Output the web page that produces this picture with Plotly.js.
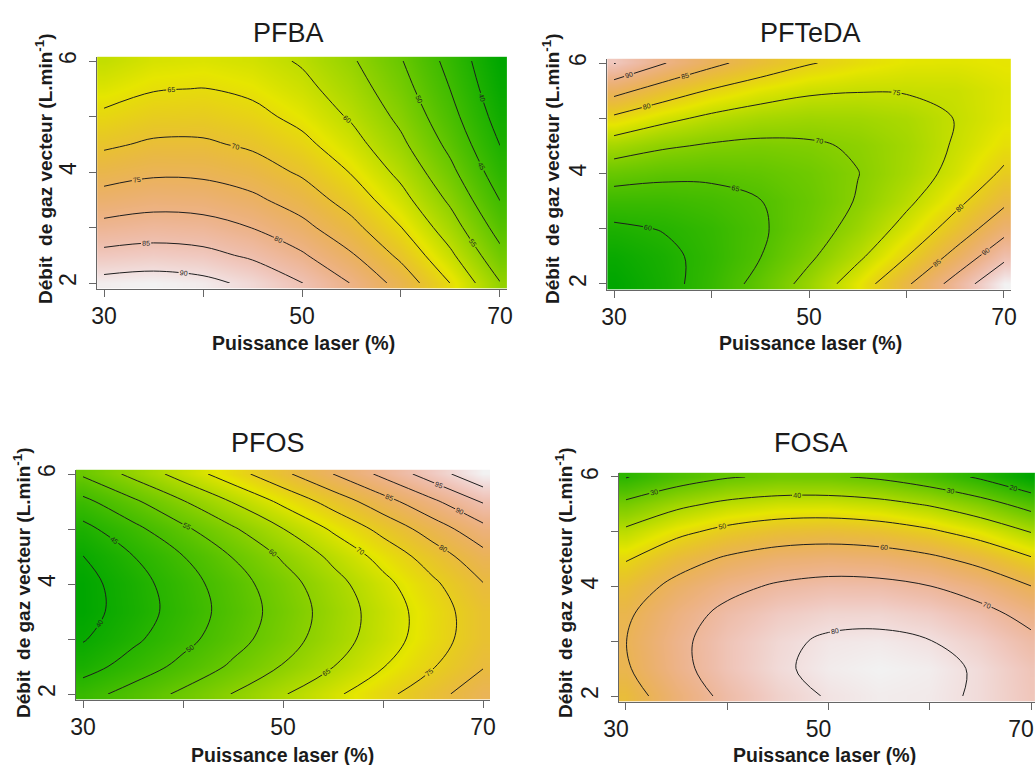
<!DOCTYPE html>
<html>
<head>
<meta charset="utf-8">
<script src="https://cdn.plot.ly/plotly-3.0.1.min.js"></script>
<style>
html,body{margin:0;padding:0;background:#ffffff;}
#chart{width:1035px;height:765px;}
</style>
</head>
<body>
<div id="chart"></div>
<script>
// ---- data ----
const puissance = [30, 35, 40, 45, 50, 55, 60, 65, 70];      // Puissance laser (%)
const debit = [2, 2.5, 3, 3.5, 4, 4.5, 5, 5.5, 6];           // Débit de gaz vecteur (L/min)
const xTickVals = [30, 50, 70];
const xTickText = ['30', '50', '70'];
const xMinorTicks = [40, 60];
const yTickVals = [2, 4, 6];
const yTickText = ['2', '4', '6'];
const yMinorTicks = [3, 5];
const panelTitles = ['PFBA', 'PFTeDA', 'PFOS', 'FOSA'];

// rows = debit (2 -> 6), columns = puissance (30 -> 70)
const pfba = [
  [91.6, 92.2, 91.3, 88.9, 85.1, 79.8, 73.1, 64.9, 55.2],
  [86.4, 87.1, 86.4, 84.2, 80.6, 75.5, 68.9, 60.9, 51.4],
  [81.5, 82.4, 81.9, 79.9, 76.4, 71.5, 65.1, 57.3, 48.0],
  [77.0, 78.1, 77.8, 76.0, 72.7, 67.9, 61.7, 54.1, 44.9],
  [72.9, 74.2, 74.0, 72.4, 69.3, 64.7, 58.7, 51.2, 42.2],
  [69.2, 70.7, 70.7, 69.2, 66.3, 61.9, 56.0, 48.7, 39.9],
  [65.9, 67.5, 67.7, 66.4, 63.6, 59.4, 53.8, 46.6, 38.0],
  [62.9, 64.7, 65.1, 64.0, 61.4, 57.4, 51.9, 44.9, 36.5],
  [60.3, 62.3, 62.8, 61.9, 59.5, 55.6, 50.3, 43.5, 35.3]
];
const pfteda = [
  [55.5, 58.4, 62.0, 66.5, 71.6, 77.6, 84.3, 91.8, 99.8],
  [56.8, 58.8, 61.5, 64.9, 69.2, 74.1, 79.9, 86.4, 93.7],
  [59.2, 60.2, 61.9, 64.4, 67.7, 71.7, 76.5, 82.0, 88.3],
  [62.6, 62.6, 63.4, 64.9, 67.2, 70.3, 74.1, 78.7, 84.0],
  [67.1, 66.1, 65.9, 66.5, 67.8, 69.9, 72.7, 76.3, 80.7],
  [72.6, 70.6, 69.5, 69.0, 69.4, 70.5, 72.4, 75.4, 78.4],
  [79.1, 76.2, 74.0, 72.6, 72.0, 72.2, 73.1, 75.1, 77.2],
  [86.6, 82.7, 79.6, 77.3, 75.7, 75.2, 75.3, 75.5, 77.0],
  [95.2, 90.3, 86.2, 82.9, 80.3, 78.6, 77.5, 77.3, 77.8]
];
const pfos = [
  [48.0, 52.0, 56.0, 60.2, 64.6, 69.0, 73.6, 78.3, 83.1],
  [42.9, 47.1, 51.4, 55.8, 60.3, 64.9, 69.8, 74.7, 79.7],
  [39.6, 44.0, 48.4, 53.1, 57.8, 62.7, 67.6, 72.8, 78.0],
  [38.0, 42.5, 47.2, 52.1, 57.0, 62.1, 67.3, 72.6, 78.0],
  [38.1, 42.9, 47.8, 52.8, 57.9, 63.2, 68.6, 74.1, 79.8],
  [39.9, 44.9, 49.9, 55.2, 60.6, 66.1, 71.7, 77.4, 83.3],
  [43.5, 48.6, 54.0, 59.4, 64.9, 70.7, 76.5, 82.4, 88.5],
  [48.7, 54.1, 59.7, 65.3, 71.1, 77.0, 83.0, 89.1, 95.4],
  [55.7, 61.3, 67.1, 72.9, 78.9, 85.0, 91.2, 97.6, 104.1]
];
const fosa = [
  [56.0, 64.9, 72.0, 77.2, 80.5, 81.9, 81.5, 79.2, 75.0],
  [59.1, 67.6, 74.2, 79.0, 81.8, 82.8, 82.0, 79.2, 74.6],
  [59.9, 68.0, 74.2, 78.5, 81.0, 81.5, 80.2, 77.0, 72.0],
  [58.7, 66.3, 72.1, 75.9, 77.9, 78.1, 76.3, 72.7, 67.2],
  [55.2, 62.4, 67.7, 71.1, 72.7, 72.4, 70.2, 66.1, 60.2],
  [49.5, 56.3, 61.2, 64.2, 65.3, 64.5, 61.9, 57.4, 51.0],
  [41.7, 48.0, 52.4, 55.0, 55.7, 54.5, 51.4, 46.5, 39.7],
  [32.1, 38.0, 42.0, 44.1, 44.4, 42.8, 39.3, 33.9, 26.6],
  [19.6, 25.5, 29.4, 31.1, 30.9, 28.8, 24.7, 18.8, 10.9]
];
const contourStart = [40, 60, 40, 20];
const contourEnd = [90, 95, 100, 80];
const contourStep = [5, 5, 5, 10];

// ---- styling ----
const W = 1035, H = 765;
const FONT = 'Liberation Sans, Arial, Helvetica, sans-serif';
const TXT = '#1b1b1b';
const AXC = '#666666';

// R terrain.colors as a continuous scale
function hsv(h, s, v) {
  const i = Math.floor(h / 60) % 6, f = h / 60 - Math.floor(h / 60);
  const p = v * (1 - s), q = v * (1 - f * s), t = v * (1 - (1 - f) * s);
  const m = [[v, t, p], [q, v, p], [p, v, t], [p, q, v], [t, p, v], [v, p, q]][i];
  return 'rgb(' + m.map(c => Math.round(c * 255)).join(',') + ')';
}
const terrain = [];
for (let i = 0; i <= 40; i++) {
  const t = i / 40;
  let c;
  if (t <= 0.5) { const u = t / 0.5; c = hsv(120 - 60 * u, 1, 0.65 + 0.25 * u); }
  else { const u = (t - 0.5) / 0.5; c = hsv(60 - 60 * u, 1 - u, 0.9 + 0.05 * u); }
  terrain.push([t, c]);
}

// panel frames in pixels
const frames = [
  {l: 97.1, r: 506.9, t: 56.6, b: 288.6, xr: [29.3, 70.7], shift: 0},
  {l: 607.2, r: 1010.8, t: 58.6, b: 289.5, xr: [29.3, 70.7], shift: 0},
  {l: 76.0, r: 490.0, t: 469.6, b: 699.5, xr: [29.3, 70.7], shift: 0},
  {l: 618.9, r: 1035, t: 472.6, b: 701.5, xr: [29.3, 70.395], shift: -10}
];
const yRange = [1.9, 6.08];
const titlePos = [[288, 33], [810, 33], [268, 443], [811, 443]];
const xTitlePos = [[303, 343], [810, 343], [282, 755], [824, 755]];
const yTitlePos = [[44, 169], [551, 169], [22, 583], [564, 583]];

const grids = [pfba, pfteda, pfos, fosa];
const traces = [];
const layout = {
  width: W, height: H,
  margin: {l: 0, r: 0, t: 0, b: 0, pad: 0},
  paper_bgcolor: '#ffffff', plot_bgcolor: '#ffffff',
  showlegend: false,
  font: {family: FONT, color: TXT},
  annotations: []
};

grids.forEach((z, i) => {
  const s = i === 0 ? '' : String(i + 1);
  const f = frames[i];
  traces.push({
    type: 'heatmap', x: puissance, y: debit, z: z,
    xaxis: 'x' + s, yaxis: 'y' + s,
    colorscale: terrain, zsmooth: 'best', showscale: false, hoverinfo: 'skip'
  });
  traces.push({
    type: 'contour', x: puissance, y: debit, z: z,
    xaxis: 'x' + s, yaxis: 'y' + s,
    showscale: false, hoverinfo: 'skip',
    autocontour: false,
    contours: {
      coloring: 'none', start: contourStart[i], end: contourEnd[i], size: contourStep[i],
      showlabels: true, labelfont: {family: FONT, size: 7, color: '#222'}
    },
    line: {color: '#1e1e1e', width: 1, smoothing: 1}
  });
  layout['xaxis' + s] = {
    domain: [f.l / W, f.r / W], range: f.xr, anchor: 'y' + s,
    tickmode: 'array', tickvals: xTickVals, ticktext: xTickText,
    ticks: 'outside', ticklen: 7, tickwidth: 1, tickcolor: AXC,
    minor: {tickmode: 'array', tickvals: xMinorTicks, ticks: 'outside', ticklen: 7, tickwidth: 1, tickcolor: AXC, showgrid: false},
    showline: true, linecolor: AXC, linewidth: 1,
    showgrid: false, zeroline: false, fixedrange: true,
    ticklabeloverflow: 'allow',
    ticklabelshift: f.shift,
    tickfont: {family: FONT, size: 23, color: TXT},
    ticklabelstandoff: 0
  };
  layout['yaxis' + s] = {
    domain: [1 - f.b / H, 1 - f.t / H], range: yRange, anchor: 'x' + s,
    tickmode: 'array', tickvals: yTickVals, ticktext: yTickText,
    ticks: 'outside', ticklen: 7, tickwidth: 1, tickcolor: AXC,
    minor: {tickmode: 'array', tickvals: yMinorTicks, ticks: 'outside', ticklen: 7, tickwidth: 1, tickcolor: AXC, showgrid: false},
    showline: true, linecolor: AXC, linewidth: 1,
    showgrid: false, zeroline: false, fixedrange: true,
    tickangle: -90,
    tickfont: {family: FONT, size: 23, color: TXT},
    ticklabelstandoff: 4
  };
  layout.annotations.push({
    xref: 'paper', yref: 'paper', x: titlePos[i][0] / W, y: 1 - titlePos[i][1] / H,
    xanchor: 'center', yanchor: 'middle', showarrow: false,
    text: panelTitles[i], font: {family: FONT, size: 27, color: TXT}
  });
  layout.annotations.push({
    xref: 'paper', yref: 'paper', x: xTitlePos[i][0] / W, y: 1 - xTitlePos[i][1] / H,
    xanchor: 'center', yanchor: 'middle', showarrow: false,
    text: '<b>Puissance laser (%)</b>', font: {family: FONT, size: 19.5, color: TXT}
  });
  layout.annotations.push({
    xref: 'paper', yref: 'paper', x: yTitlePos[i][0] / W, y: 1 - yTitlePos[i][1] / H,
    xanchor: 'center', yanchor: 'middle', showarrow: false, textangle: -90,
    text: '<b>Débit\u00A0 de gaz vecteur (L.min<sup>-1</sup>)</b>',
    font: {family: FONT, size: 19, color: TXT}
  });
});

Plotly.newPlot('chart', traces, layout, {staticPlot: true, displayModeBar: false});
</script>
</body>
</html>
